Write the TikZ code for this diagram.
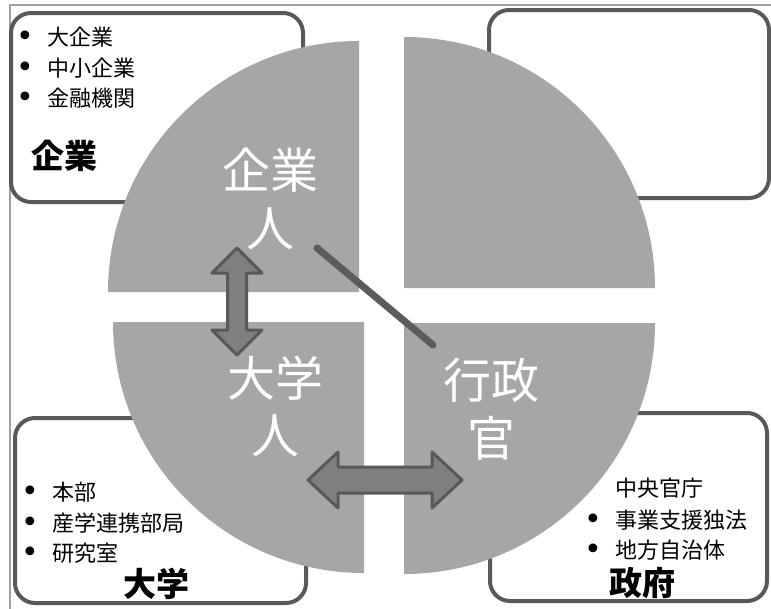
\documentclass[tikz,border=0pt]{standalone}
\usepackage{fontspec}
\setmainfont{Noto Sans CJK JP}
\newfontfamily\bulletfont{DejaVu Sans}
\definecolor{piec}{HTML}{A6A6A6}
\definecolor{boxc}{HTML}{595959}
\definecolor{arrowfill}{HTML}{7F7F7F}
\definecolor{linec}{HTML}{5C5C5C}
\definecolor{framec}{HTML}{A0A0A0}
\begin{document}
\begin{tikzpicture}[x=1pt,y=-1pt,
  quad/.style={fill=piec},
  roundbox/.style={draw=boxc, line width=4pt, rounded corners=20pt},
  bul/.style={font=\bulletfont\fontsize{30}{30}\selectfont, inner sep=0pt, yshift=-2pt},
  item/.style={font=\fontsize{22}{26}\selectfont, inner sep=0pt, anchor=west},
  lab/.style={font=\fontsize{33}{36}\selectfont\bfseries, inner sep=0pt},
  people/.style={font=\fontsize{48}{52}\selectfont, text=white, inner sep=0pt},
  dblarrow/.style={fill=arrowfill, draw=boxc, line width=3pt, line join=round}
]
\useasboundingbox (0,0) rectangle (771,608);
% outer frame
\draw[draw=framec, line width=1.5pt] (10,620) -- (10,5) -- (780,5);
% boxes behind the pie
\draw[roundbox] (11,13) rectangle (303,202);
\draw[roundbox] (489,10) rectangle (769,198);
\draw[roundbox] (15,418) rectangle (306,603);
\draw[roundbox] (490,413) rectangle (767,601);
% pie quadrants
\fill[quad] (359,292) -- ++(-251,0) arc[start angle=180, end angle=270, radius=251] -- cycle;
\fill[quad] (404,288) -- ++(0,-251) arc[start angle=270, end angle=360, radius=251] -- cycle;
\fill[quad] (404,323) -- ++(251,0) arc[start angle=0, end angle=90, radius=251] -- cycle;
\fill[quad] (364,322) -- ++(0,251) arc[start angle=90, end angle=180, radius=251] -- cycle;
% people texts
\node[people] (kigyo1) at (270,170) {企業};
\node[people] (kigyo2) at (270,229) {人};
\node[people] (daigaku1) at (275,378) {大学};
\node[people] (daigaku2) at (275,436) {人};
\node[people] (gyosei1) at (491,380) {行政};
\node[people] (gyosei2) at (491,438) {官};
% box labels
\node[lab] (labK) at (64,156) {企業};
\node[lab] (labD) at (156,584) {大学};
\node[lab] (labS) at (642,583) {政府};
% lists
\node[bul] (b1) at (25,37) {•};
\node[item] (t1) at (47,37) {大企業};
\node[bul] (b2) at (25,68) {•};
\node[item] (t2) at (47,68) {中小企業};
\node[bul] (b3) at (25,98) {•};
\node[item] (t3) at (47,98) {金融機関};
\node[bul] (b4) at (30,492) {•};
\node[item] (t4) at (52,492) {本部};
\node[bul] (b5) at (30,523) {•};
\node[item] (t5) at (52,523) {産学連携部局};
\node[bul] (b6) at (30,553) {•};
\node[item] (t6) at (52,553) {研究室};
\node[item] (t7) at (615,488) {中央官庁};
\node[bul] (b8) at (593,520) {•};
\node[item] (t8) at (615,520) {事業支援独法};
\node[bul] (b9) at (593,550) {•};
\node[item] (t9) at (615,550) {地方自治体};
% double arrows
\draw[dblarrow] (237,248) -- (262,273) -- (246.5,273) -- (246.5,330) -- (262,330) -- (237,355)
  -- (212,330) -- (227.5,330) -- (227.5,273) -- (212,273) -- cycle;
\draw[dblarrow] (308,480) -- (338,452) -- (338,467) -- (432,467) -- (432,452) -- (462,480)
  -- (432,508) -- (432,493) -- (338,493) -- (338,508) -- cycle;
% diagonal connector
\coordinate (lnA) at (317,248);
\coordinate (lnB) at (433,345);
\draw[linec, line width=7pt, line cap=round] (lnA) -- (lnB);
\end{tikzpicture}
\end{document}
